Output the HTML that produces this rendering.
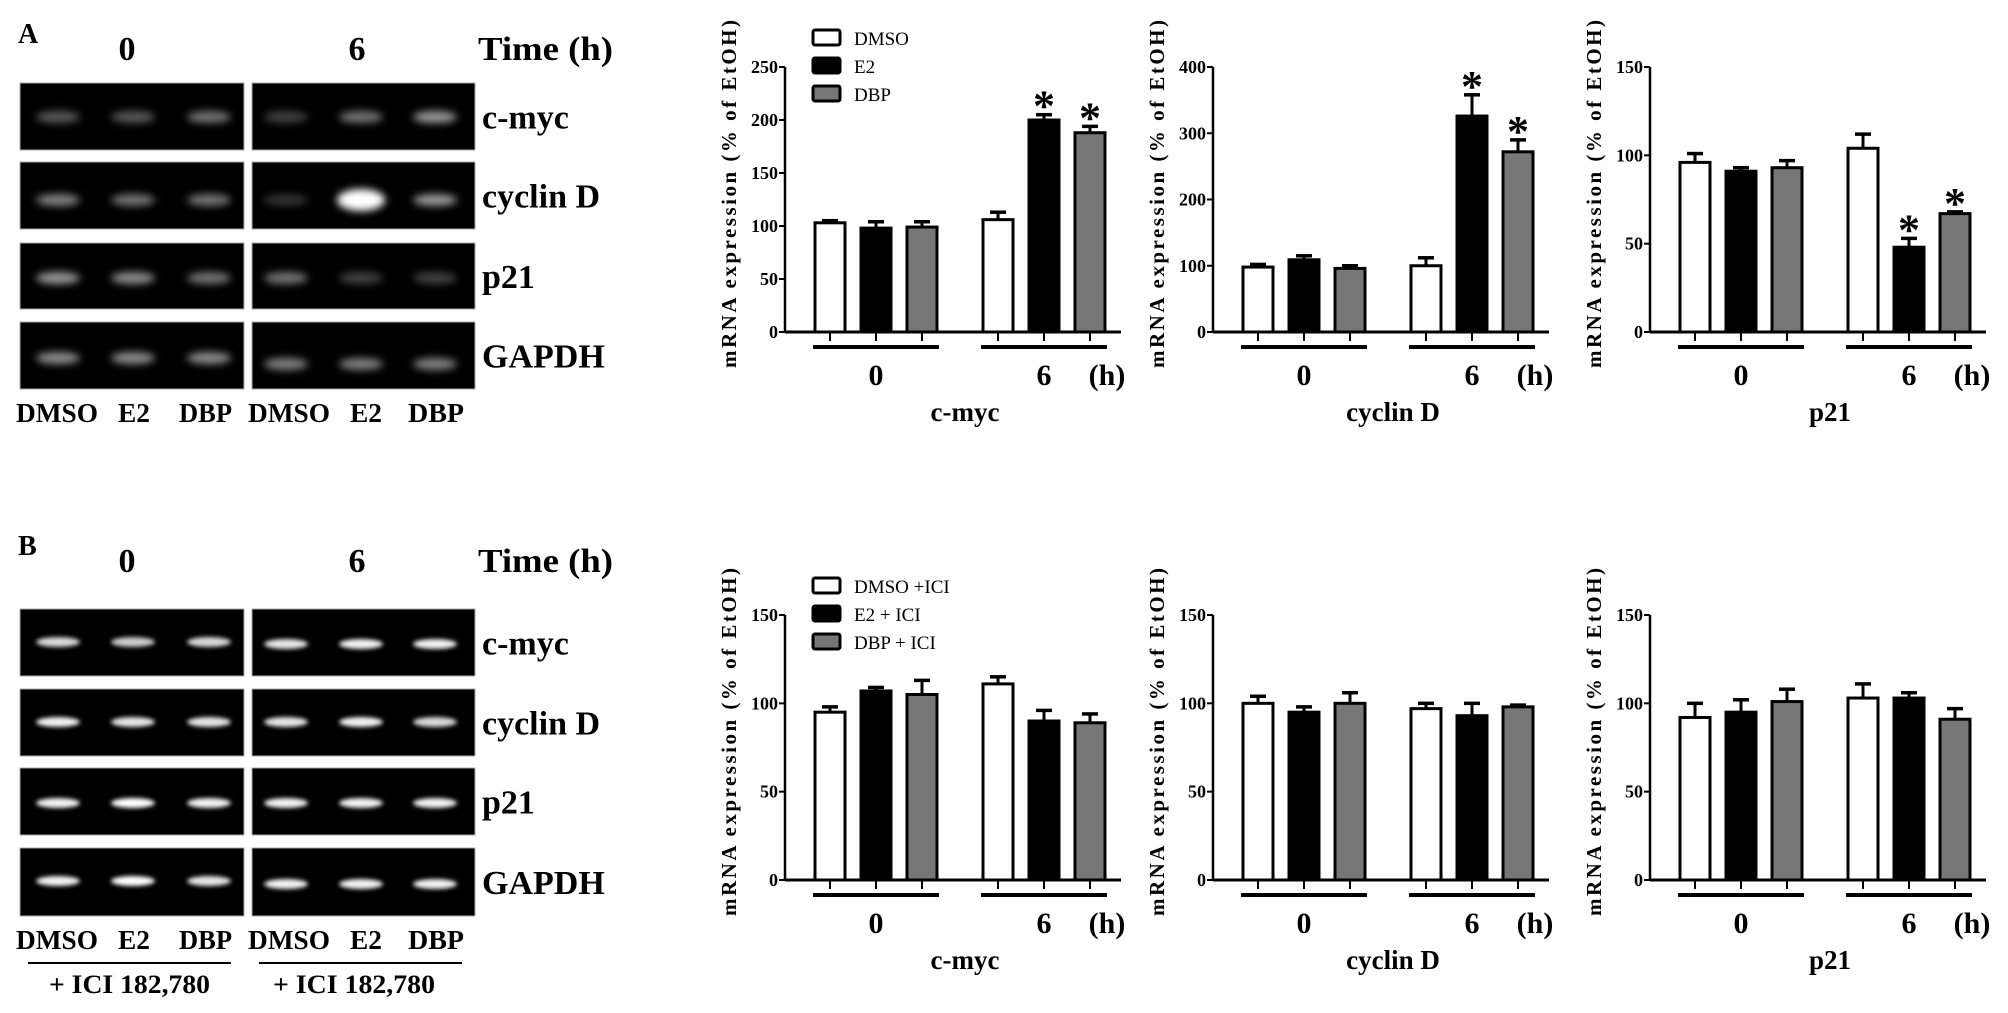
<!DOCTYPE html>
<html><head><meta charset="utf-8"><style>
html,body{margin:0;padding:0;background:#fff;}
svg{display:block;font-family:"Liberation Serif",serif;font-weight:bold;}
</style></head><body>
<svg id="fig" width="2008" height="1013" viewBox="0 0 2008 1013" xmlns="http://www.w3.org/2000/svg">
<defs>
<filter id="blur" x="-50%" y="-100%" width="200%" height="300%"><feGaussianBlur stdDeviation="4"/></filter>
<filter id="blur2" x="-50%" y="-100%" width="200%" height="300%"><feGaussianBlur stdDeviation="2"/></filter>
</defs>
<rect width="2008" height="1013" fill="#fff"/>
<g id="gels"></g>
<g id="charts"></g>
</svg>
<script>
// ---- chart data ----
const treatments = ['DMSO','E2','DBP'];
const timeGroups = ['0','6'];
const yTicksA1 = [0,50,100,150,200,250];
const yTicksA2 = [0,100,200,300,400];
const yTicksA3 = [0,50,100,150];
const yTicksB = [0,50,100,150];
const legendA = ['DMSO','E2','DBP'];
const legendB = ['DMSO +ICI','E2 + ICI','DBP + ICI'];
// bars ordered: 0h DMSO,E2,DBP, 6h DMSO,E2,DBP
const aMycMean = [103,98,99,106,200,188];
const aMycErr  = [2,6,5,7,5,6];
const aMycSig  = [0,0,0,0,1,1];
const aCycMean = [98,109,96,100,326,272];
const aCycErr  = [4,6,4,12,32,18];
const aCycSig  = [0,0,0,0,1,1];
const aP21Mean = [96,91,93,104,48,67];
const aP21Err  = [5,2,4,8,5,1];
const aP21Sig  = [0,0,0,0,1,1];
const bMycMean = [95,107,105,111,90,89];
const bMycErr  = [3,2,8,4,6,5];
const bCycMean = [100,95,100,97,93,98];
const bCycErr  = [4,3,6,3,7,1];
const bP21Mean = [92,95,101,103,103,91];
const bP21Err  = [8,7,7,8,3,6];
const geneNames = ['c-myc','cyclin D','p21'];

const NS='http://www.w3.org/2000/svg';
const fig=document.getElementById('charts');
function el(tag,attrs,parent,text){const e=document.createElementNS(NS,tag);for(const k in attrs)e.setAttribute(k,attrs[k]);if(text!==undefined)e.textContent=text;(parent||fig).appendChild(e);return e;}
const fills=['#fff','#000','#777'];
const barOff=[45,91,137,213,259,305];

function drawChart(name,axisX,y0,yTop,ticks,means,errs,sigs,gene,legend){
  const g=el('g',{});
  
  
  const maxV=ticks[ticks.length-1];
  const ys=v=>y0-(v/maxV)*(y0-yTop);
  const xs=i=>axisX+barOff[i];
  const ya=el('line',{x1:axisX,y1:yTop,x2:axisX,y2:y0,stroke:'#000','stroke-width':2.5},g);
  
  
  ticks.forEach(t=>{
    el('line',{x1:axisX-6,y1:ys(t),x2:axisX,y2:ys(t),stroke:'#000','stroke-width':2},g);
    const tl=el('text',{x:axisX-7,y:ys(t)+6,'text-anchor':'end','font-size':18},g,String(t));
    
    
  });
  const xa=el('line',{x1:axisX,y1:y0,x2:axisX+336,y2:y0,stroke:'#000','stroke-width':3},g);
  
  
  means.forEach((m,i)=>{
    const cx=xs(i),w=30;
    const ey=ys(m+errs[i]);
    el('line',{x1:cx,y1:ys(m),x2:cx,y2:ey,stroke:'#000','stroke-width':3},g);
    el('line',{x1:cx-8,y1:ey,x2:cx+8,y2:ey,stroke:'#000','stroke-width':3.5},g);
    const b=el('rect',{x:cx-w/2,y:ys(m),width:w,height:y0-ys(m),fill:fills[i%3],stroke:'#000','stroke-width':3},g);
    
    
    el('line',{x1:cx,y1:y0,x2:cx,y2:y0+9,stroke:'#000','stroke-width':2},g);
    if(sigs&&sigs[i]){
      const s=el('text',{x:cx,y:ey+6,'text-anchor':'middle','font-size':44},g,'*');
      
      
    }
  });
  [0,1].forEach(k=>{
    el('rect',{x:xs(k*3)-17,y:y0+13,width:xs(k*3+2)-xs(k*3)+34,height:4,fill:'#000'},g);
    const gl=el('text',{x:xs(k*3+1),y:y0+53,'text-anchor':'middle','font-size':30},g,timeGroups[k]);
    
    
  });
  const hl=el('text',{x:axisX+322,y:y0+53,'text-anchor':'middle','font-size':30},g,'(h)');
  
  
  const gn=el('text',{x:axisX+180,y:y0+89,'text-anchor':'middle','font-size':27},g,gene);
  
  
  const yt=el('text',{x:0,y:0,'text-anchor':'middle','font-size':21,transform:`translate(${axisX-49},${yTop+127}) rotate(-90)`,textLength:348,lengthAdjust:'spacing'},g,'mRNA expression (% of EtOH)');
  
  
  if(legend){
    const lg=el('g',{},g);
    
    
    legend.forEach((t,i)=>{
      const ly=yTop-37+i*28;
      el('rect',{x:axisX+28,y:ly,width:27,height:15,rx:2,fill:fills[i],stroke:'#000','stroke-width':3},lg);
      const lt=el('text',{x:axisX+69,y:ly+15,'font-size':19,'font-weight':'normal'},lg,t);
      
      
    });
  }
}
const axes=[785,1213,1650];
drawChart('chart-a-cmyc',axes[0],332,67,yTicksA1,aMycMean,aMycErr,aMycSig,geneNames[0],legendA);
drawChart('chart-a-cyclind',axes[1],332,67,yTicksA2,aCycMean,aCycErr,aCycSig,geneNames[1],null);
drawChart('chart-a-p21',axes[2],332,67,yTicksA3,aP21Mean,aP21Err,aP21Sig,geneNames[2],null);
drawChart('chart-b-cmyc',axes[0],880,615,yTicksB,bMycMean,bMycErr,null,geneNames[0],legendB);
drawChart('chart-b-cyclind',axes[1],880,615,yTicksB,bCycMean,bCycErr,null,geneNames[1],null);
drawChart('chart-b-p21',axes[2],880,615,yTicksB,bP21Mean,bP21Err,null,geneNames[2],null);

// ---- gels ----
const gels=document.getElementById('gels');
function T(x,y,s,txt,name,anchor,len){const a={x:x,y:y,'font-size':s,'text-anchor':anchor||'start'};if(len){a.textLength=len;a.lengthAdjust='spacingAndGlyphs';}const t=el('text',a,gels,txt);return t;}
const laneX=[58,133,209,286,361,435];
const rowNames=['c-myc','cyclin D','p21','GAPDH'];
const bandA=[[0.35,0.35,0.45,0.25,0.45,0.6],[0.5,0.45,0.45,0.2,1.0,0.6],[0.6,0.55,0.45,0.45,0.25,0.25],[0.55,0.55,0.55,0.5,0.5,0.5]];
const bandB=[[0.85,0.8,0.85,0.9,0.95,0.95],[0.95,0.9,0.9,0.9,0.95,0.85],[0.95,1,0.95,0.95,0.95,0.95],[0.95,1,0.9,0.95,0.95,0.95]];
function drawPanel(label,yOff,rows,bands,bandY,sharp){
  T(18,yOff+43,28,label,'panel-label-'+label.toLowerCase());
  T(127,yOff+60,34,'0','gel-time-0','middle');
  T(357,yOff+60,34,'6','gel-time-6','middle');
  T(478,yOff+60,34,'Time (h)','gel-time-title','start',135);
  rows.forEach((r,ri)=>{
    [[20,244],[252,475]].forEach((p,pi)=>{
      const rr=el('rect',{x:p[0],y:r[0],width:p[1]-p[0],height:r[1]-r[0],fill:'#000',stroke:'#aaa','stroke-width':1},gels);
      
      
    });
    bands[ri].forEach((v,li)=>{
      const by=bandY[ri][li>2?1:0];
      const c=Math.round(255*Math.min(1,v));
      const big=v>=1&&!sharp;
      el('ellipse',{cx:laneX[li],cy:by,rx:big?24:22,ry:big?11:(sharp?5:6),fill:`rgb(${c},${c},${c})`,filter:sharp?'url(#blur2)':'url(#blur)'},gels);
    });
    T(482,(r[0]+r[1])/2+12,34,rowNames[ri],'gel-row-label');
  });
  const ly=rows[3][1]+33;
  [['DMSO',16,82],['E2',118,32],['DBP',179,53],['DMSO',248,82],['E2',350,32],['DBP',408,56]].forEach(d=>T(d[1],ly,27,d[0],'lane-label','start',d[2]));
}
drawPanel('A',0,[[83,150],[162,229],[243,309],[322,389]],bandA,[[117,117],[200,200],[278,278],[358,364]],false);
drawPanel('B',512,[[609,676],[689,756],[768,835],[848,916]],bandB,[[642,644],[722,722],[803,803],[881,884]],true);
el('rect',{x:28,y:962,width:203,height:2,fill:'#000'},gels);
el('rect',{x:259,y:962,width:203,height:2,fill:'#000'},gels);
T(49,993,26,'+ ICI 182,780','ici-label-0h','start',161);
T(273,993,26,'+ ICI 182,780','ici-label-6h','start',162);
</script>
</body></html>
